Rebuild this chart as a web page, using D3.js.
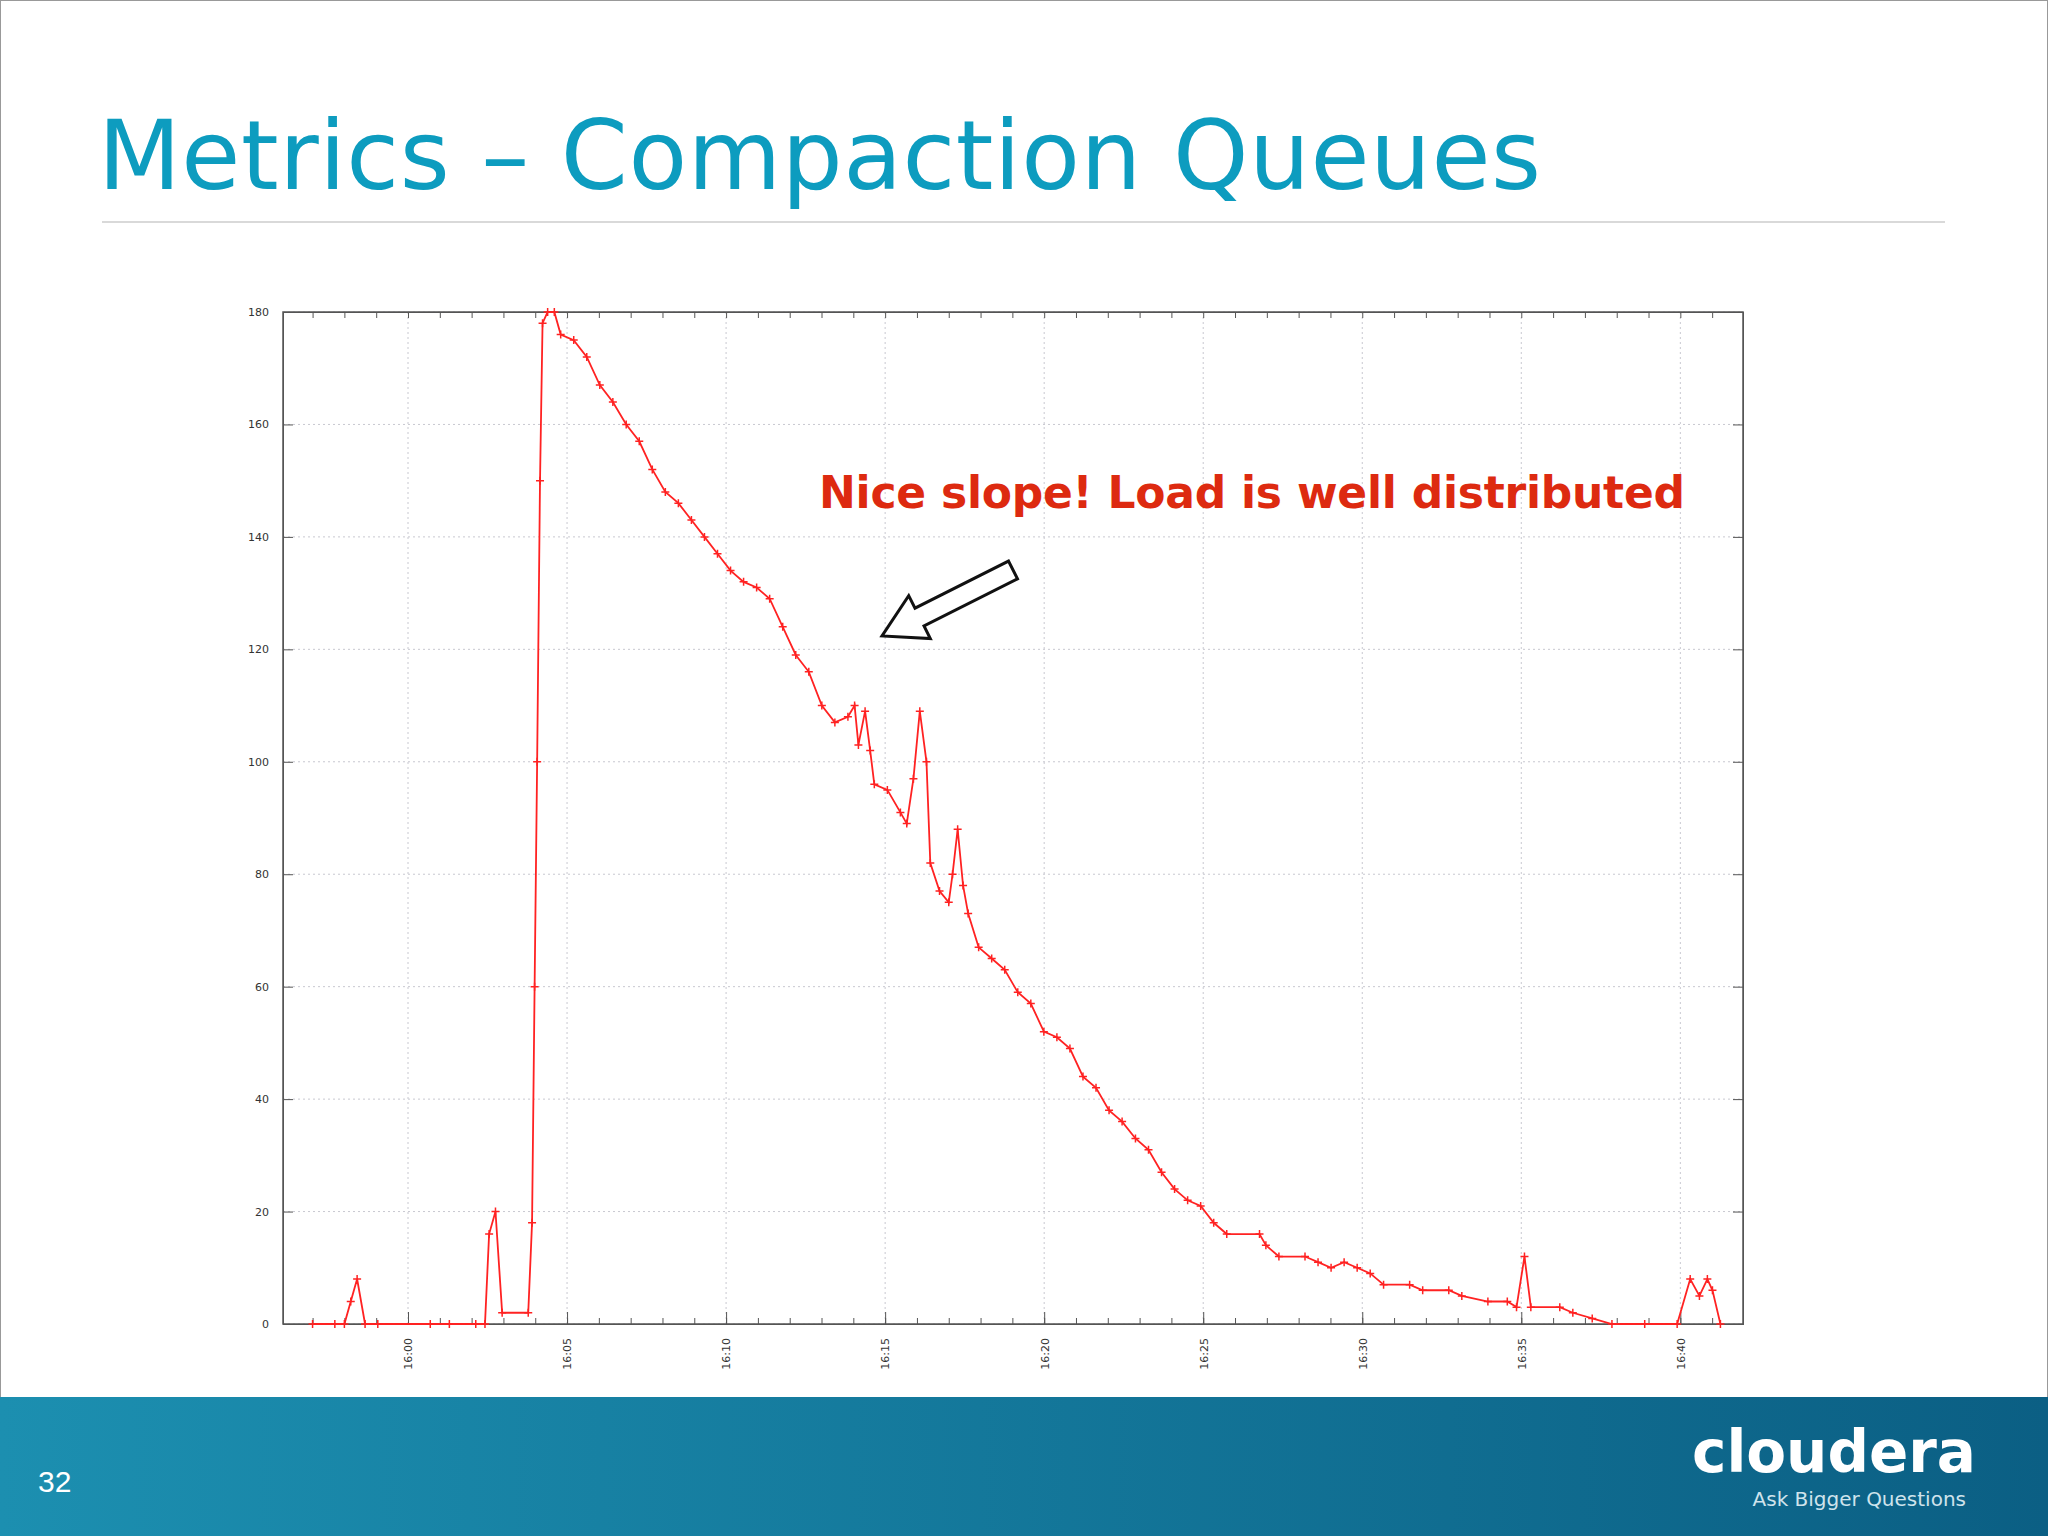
<!DOCTYPE html>
<html><head><meta charset="utf-8">
<script src="https://cdn.jsdelivr.net/npm/d3@7"></script>
<style>body{margin:0;background:#fff}svg{display:block}</style>
</head><body>
<script>
// minutes after 16:00 and queue length
var minutes = [-3.0,-2.3,-2.0,-1.8,-1.6,-1.35,-0.95,0.7,1.3,2.13,2.42,2.55,2.75,2.96,3.78,3.9,3.98,4.06,4.15,4.23,4.39,4.6,4.8,5.21,5.62,6.03,6.44,6.86,7.27,7.68,8.09,8.5,8.91,9.32,9.73,10.14,10.55,10.96,11.37,11.78,12.19,12.6,13.01,13.42,13.83,14.04,14.16,14.37,14.53,14.66,15.07,15.48,15.68,15.89,16.09,16.3,16.42,16.71,17.0,17.12,17.28,17.45,17.61,17.94,18.35,18.76,19.17,19.58,19.99,20.4,20.81,21.22,21.63,22.04,22.45,22.87,23.28,23.69,24.1,24.51,24.92,25.33,25.74,26.77,26.97,27.38,28.2,28.61,29.02,29.43,29.84,30.25,30.67,31.49,31.9,32.72,33.13,33.95,34.56,34.85,35.1,35.3,36.21,36.62,37.23,37.85,38.88,39.9,40.31,40.6,40.85,41.01,41.26];
var queue = [0,0,0,4,8,0,0,0,0,0,0,16,20,2,2,18,60,100,150,178,180,180,176,175,172,167,164,160,157,152,148,146,143,140,137,134,132,131,129,124,119,116,110,107,108,110,103,109,102,96,95,91,89,97,109,100,82,77,75,80,88,78,73,67,65,63,59,57,52,51,49,44,42,38,36,33,31,27,24,22,21,18,16,16,14,12,12,11,10,11,10,9,7,7,6,6,5,4,4,3,12,3,3,2,1,0,0,0,8,5,8,6,0];
var yTicks = [0,20,40,60,80,100,120,140,160,180];
var xTickMinutes = [0,5,10,15,20,25,30,35,40];

var W = 2048, H = 1536;
var svg = d3.select("body").append("svg").attr("width", W).attr("height", H);
svg.append("rect").attr("x",0.5).attr("y",0.5).attr("width",W-1).attr("height",H-1).attr("fill","#fff").attr("stroke","#999");

// title
svg.append("text").attr("x",98).attr("y",189).attr("fill","#0d9cbf")
  .style("font-family","DejaVu Sans").style("font-size","96px")
  .attr("textLength",1443).text("Metrics – Compaction Queues");
svg.append("line").attr("x1",102).attr("x2",1945).attr("y1",222).attr("y2",222).attr("stroke","#ccc").attr("stroke-width",1.5);

var base = new Date(2013,0,1,16,0,0);
function t(m){ return new Date(base.getTime() + m*60000); }
var L = 283, R = 1743, T = 312, B = 1324;
var x = d3.scaleTime().domain([t(-3.93), t(41.97)]).range([L, R]);
var y = d3.scaleLinear().domain([0,180]).range([B, T]);
var data = minutes.map(function(m,i){ return {t:t(m), v:queue[i]}; });

// grid
var g = svg.append("g");
g.selectAll(".gy").data(yTicks).enter().append("line")
  .attr("x1",L).attr("x2",R).attr("y1",function(d){return y(d);}).attr("y2",function(d){return y(d);})
  .attr("stroke","#c8c8d0").attr("stroke-dasharray","2,3");
g.selectAll(".gx").data(xTickMinutes).enter().append("line")
  .attr("y1",T).attr("y2",B).attr("x1",function(d){return x(t(d));}).attr("x2",function(d){return x(t(d));})
  .attr("stroke","#c8c8d0").attr("stroke-dasharray","2,3");

// axes
var axStyle = function(sel){ sel.selectAll("text").style("font-family","DejaVu Sans").style("font-size","11px").attr("fill","#333"); sel.selectAll("line,path").attr("stroke","#555"); };
svg.append("g").attr("transform","translate("+L+",0)")
  .call(d3.axisLeft(y).tickValues(yTicks).tickSize(-10).tickPadding(14)).call(axStyle);
svg.append("g").attr("transform","translate("+R+",0)")
  .call(d3.axisRight(y).tickValues(yTicks).tickSize(-10).tickFormat("")).call(axStyle);
var fmt = d3.timeFormat("%H:%M");
var minorT = d3.range(-3,42).map(t);
svg.append("g").attr("transform","translate(0,"+B+")")
  .call(d3.axisBottom(x).tickValues(minorT).tickSize(-6).tickFormat("")).call(axStyle);
svg.append("g").attr("transform","translate(0,"+T+")")
  .call(d3.axisTop(x).tickValues(minorT).tickSize(-6).tickFormat("")).call(axStyle);
var xa = svg.append("g").attr("transform","translate(0,"+B+")")
  .call(d3.axisBottom(x).tickValues(xTickMinutes.map(t)).tickSize(-12).tickFormat(fmt)).call(axStyle);
xa.selectAll("text").attr("transform","rotate(-90)").attr("text-anchor","end").attr("x",-14).attr("y",0).attr("dy","0.35em");
svg.append("rect").attr("x",L).attr("y",T).attr("width",R-L).attr("height",B-T).attr("fill","none").attr("stroke","#555").attr("stroke-width",1.5);

// series
svg.append("path").datum(data).attr("fill","none").attr("stroke","#f22").attr("stroke-width",1.8)
  .attr("d", d3.line().x(function(d){return x(d.t);}).y(function(d){return y(d.v);}));
svg.append("g").selectAll("path").data(data).enter().append("path")
  .attr("d",function(d){var a=x(d.t),b=y(d.v);return "M"+(a-4)+","+b+"h8M"+a+","+(b-4)+"v8";})
  .attr("stroke","#f22").attr("stroke-width",1.5);

// annotation
svg.append("text").attr("x",819).attr("y",508).attr("fill","#dd2a10")
  .style("font-family","DejaVu Sans").style("font-weight","bold").style("font-size","44px")
  .attr("textLength",866).text("Nice slope! Load is well distributed");
(function(){
  var x1=1013,y1=570,x2=882,y2=636;
  var ang=Math.atan2(y2-y1,x2-x1), len=Math.hypot(x2-x1,y2-y1);
  var sh=10, hw=24, hl=42;
  var pts=[[0,-sh],[len-hl,-sh],[len-hl,-hw],[len,0],[len-hl,hw],[len-hl,sh],[0,sh]];
  svg.append("polygon").attr("points",pts.map(function(p){return p.join(",");}).join(" "))
    .attr("transform","translate("+x1+","+y1+") rotate("+(ang*180/Math.PI)+")")
    .attr("fill","#fff").attr("stroke","#111").attr("stroke-width",3);
})();

// footer
var grad = svg.append("defs").append("linearGradient").attr("id","fg");
grad.append("stop").attr("offset","0").attr("stop-color","#1c8fb0");
grad.append("stop").attr("offset","1").attr("stop-color","#0b5f84");
svg.append("rect").attr("x",0).attr("y",1397).attr("width",W).attr("height",H-1397).attr("fill","url(#fg)");
svg.append("text").attr("x",38).attr("y",1492).attr("fill","#fff").style("font-family","Liberation Sans").style("font-size","30px").text("32");
svg.append("text").attr("x",1976).attr("y",1472).attr("text-anchor","end").attr("fill","#fff")
  .style("font-family","DejaVu Sans").style("font-weight","bold").style("font-size","58px").text("cloudera");
svg.append("text").attr("x",1966).attr("y",1506).attr("text-anchor","end").attr("fill","#cfe3ec")
  .style("font-family","DejaVu Sans").style("font-size","20px").text("Ask Bigger Questions");
</script>
</body></html>
